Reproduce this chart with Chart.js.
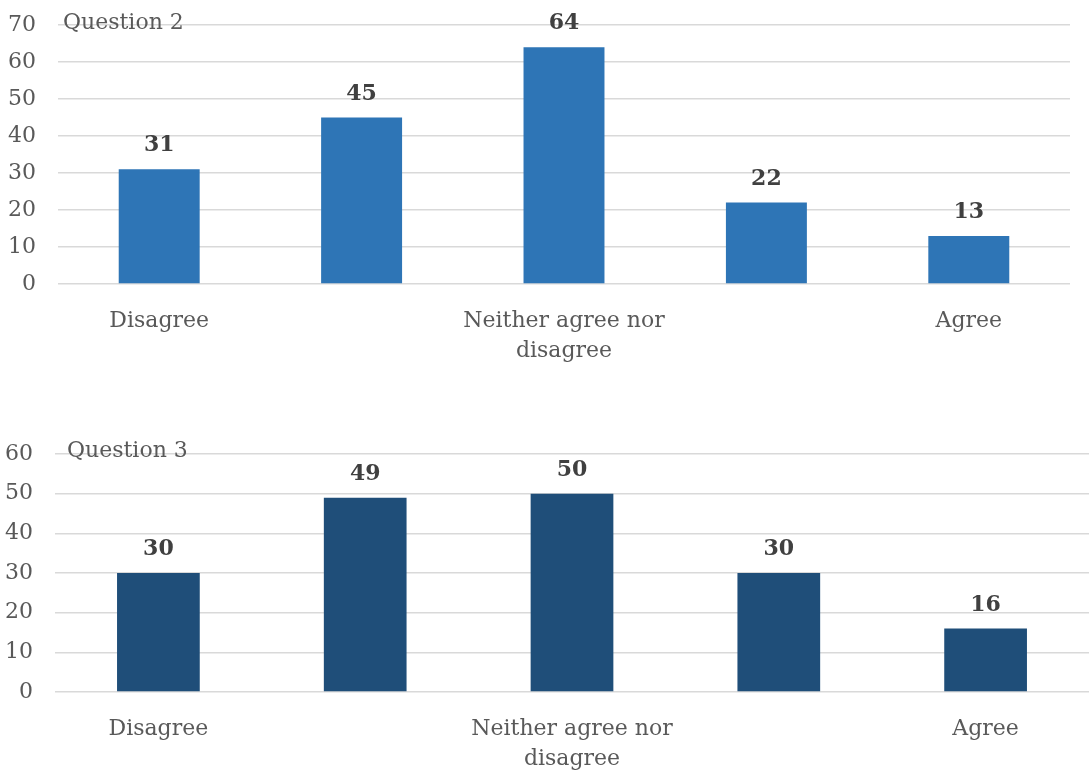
<!DOCTYPE html>
<html>
<head>
<meta charset="utf-8">
<script src="https://cdn.jsdelivr.net/npm/chart.js@4.4.1/dist/chart.umd.min.js"></script>
<style>
  html, body { margin: 0; padding: 0; background: #fff; }
  .box { position: absolute; left: 0; width: 1089px; }
  #box2 { top: 0; height: 390px; }
  #box3 { top: 390px; height: 384px; }
</style>
</head>
<body>
<div class="box" id="box2"><canvas id="chart2"></canvas></div>
<div class="box" id="box3"><canvas id="chart3"></canvas></div>
<script>
// categories (2nd and 4th have no visible label)
const categories = ['Disagree', '', ['Neither agree nor', 'disagree'], '', 'Agree'];

// values
const question2 = [31, 45, 64, 22, 13];
const question3 = [30, 49, 50, 30, 16];

const titles = ['Question 2', 'Question 3'];
const yMax = [70, 60];

const FONT = '"DejaVu Serif", serif';

// writes the value above each bar
const valueLabels = {
  id: 'valueLabels',
  afterDatasetsDraw(chart) {
    const ctx = chart.ctx;
    ctx.save();
    ctx.font = 'bold 22px ' + FONT;
    ctx.fillStyle = '#404040';
    ctx.textAlign = 'center';
    ctx.textBaseline = 'alphabetic';
    chart.getDatasetMeta(0).data.forEach((bar, i) => {
      ctx.fillText(chart.data.datasets[0].data[i], bar.x, bar.y - 18);
    });
    ctx.restore();
  }
};

// title sitting on the top gridline
const cornerTitle = {
  id: 'cornerTitle',
  afterDraw(chart, args, opts) {
    const ctx = chart.ctx;
    ctx.save();
    ctx.font = '22px ' + FONT;
    ctx.fillStyle = '#595959';
    ctx.textAlign = 'left';
    ctx.textBaseline = 'alphabetic';
    ctx.fillText(opts.text, opts.x, opts.y);
    ctx.restore();
  }
};

function makeChart(id, values, color, title, max, o) {
  return new Chart(document.getElementById(id), {
    type: 'bar',
    data: {
      labels: categories,
      datasets: [{
        data: values,
        backgroundColor: color,
        barPercentage: 0.4,
        categoryPercentage: 1
      }]
    },
    options: {
      responsive: true,
      maintainAspectRatio: false,
      animation: false,
      layout: { padding: { top: o.top, right: o.right, left: 0, bottom: 0 } },
      plugins: {
        legend: { display: false },
        tooltip: { enabled: false },
        cornerTitle: { text: title, x: o.tx, y: o.ty }
      },
      scales: {
        x: {
          grid: { display: false },
          border: { display: false },
          ticks: {
            color: '#595959',
            font: { family: FONT, size: 22, lineHeight: 1.38 },
            padding: 14,
            maxRotation: 0,
            autoSkip: false
          },
          afterFit: (scale) => { scale.height = o.xh; }
        },
        y: {
          min: 0,
          max: max,
          grid: { color: '#d9d9d9', lineWidth: 1.5, drawTicks: false },
          border: { display: false },
          ticks: {
            stepSize: 10,
            color: '#595959',
            font: { family: FONT, size: 22 },
            padding: 22
          },
          afterFit: (scale) => {
            scale.width = o.yw;
            // tick padding would otherwise push the plot down
            scale.paddingTop = 0;
            scale.paddingBottom = 0;
          }
        }
      }
    },
    plugins: [valueLabels, cornerTitle]
  });
}

makeChart('chart2', question2, '#2E75B6', titles[0], yMax[0],
  { top: 25, right: 19, yw: 58, xh: 106, tx: 63, ty: 29 });
makeChart('chart3', question3, '#1F4E79', titles[1], yMax[1],
  { top: 64, right: 0, yw: 55, xh: 82, tx: 67, ty: 67 });
</script>
</body>
</html>
